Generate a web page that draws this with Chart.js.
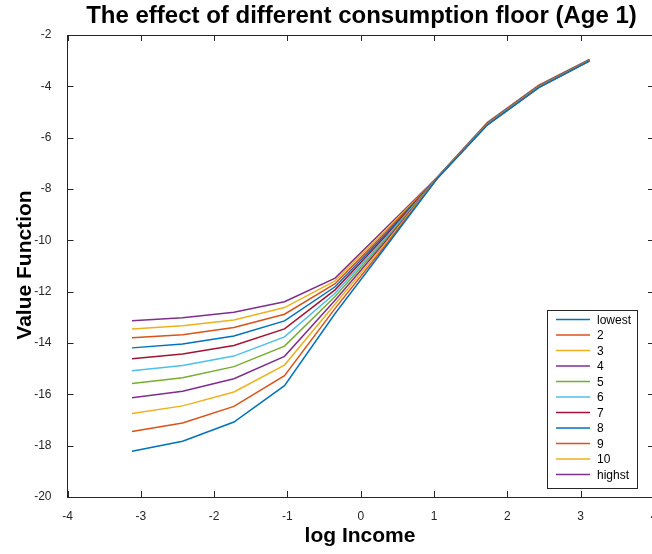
<!DOCTYPE html>
<html>
<head>
<meta charset="utf-8">
<script src="https://cdn.jsdelivr.net/npm/chart.js@4.4.1/dist/chart.umd.min.js"></script>
<style>
body { margin: 0; overflow: hidden; background: white; }
#wrap { width: 664px; height: 554px; }
</style>
</head>
<body>
<div id="wrap"><canvas id="myChart" width="664" height="554"></canvas></div>
<script>
// log income grid
const logIncome = [-3.12, -2.43, -1.73, -1.04, -0.35, 0.35, 1.04, 1.73, 2.43, 3.12];

const labels = ["lowest", "2", "3", "4", "5", "6", "7", "8", "9", "10", "highst"];

// value function at each income point, one number per floor (lowest ... highst)
const v1 = [-18.22, -17.45, -16.75, -16.13, -15.58, -15.08, -14.61, -14.19, -13.80, -13.45, -13.13];
const v2 = [-17.83, -17.12, -16.45, -15.88, -15.35, -14.88, -14.43, -14.04, -13.68, -13.33, -13.02];
const v3 = [-17.08, -16.47, -15.91, -15.39, -14.92, -14.51, -14.10, -13.73, -13.40, -13.10, -12.80];
const v4 = [-15.66, -15.27, -14.86, -14.52, -14.12, -13.76, -13.45, -13.14, -12.88, -12.62, -12.39];
const v5 = [-12.85, -12.65, -12.48, -12.33, -12.19, -12.06, -11.93, -11.81, -11.69, -11.58, -11.47];
const v6 = [-10.22, -10.15, -10.08, -10.01, -9.94, -9.87, -9.80, -9.73, -9.66, -9.58, -9.50];
const v7 = [-7.60, -7.60, -7.59, -7.59, -7.58, -7.58, -7.57, -7.57, -7.56, -7.56, -7.55];
const v8 = [-5.50, -5.49, -5.48, -5.47, -5.46, -5.45, -5.44, -5.43, -5.42, -5.41, -5.40];
const v9 = [-4.05, -4.04, -4.03, -4.02, -4.01, -4.00, -3.99, -3.98, -3.97, -3.96, -3.95];
const v10 = [-3.02, -3.01, -3.01, -3.00, -2.99, -2.99, -2.98, -2.97, -2.97, -2.96, -2.95];

const columns = [v1, v2, v3, v4, v5, v6, v7, v8, v9, v10];

const colors = ["#0072BD", "#D95319", "#EDB120", "#7E2F8E", "#77AC30", "#4DBEEE",
  "#A2142F", "#0072BD", "#D95319", "#EDB120", "#7E2F8E"];

const datasets = labels.map((lab, i) => {
  return {
    label: lab,
    borderColor: colors[i],
    backgroundColor: colors[i],
    borderWidth: 1.5,
    pointRadius: 0,
    tension: 0,
    fill: false,
    data: logIncome.map((x, j) => ({ x: x, y: columns[j][i] }))
  };
});

const axisColor = "#262626";

// box, inward ticks, titles and legend, matlab style
const matlabLook = {
  id: "matlabLook",
  afterDraw(chart) {
    const ctx = chart.ctx;
    const a = chart.chartArea;
    const xs = chart.scales.x;
    const ys = chart.scales.y;
    ctx.save();
    ctx.strokeStyle = axisColor;
    ctx.lineWidth = 1;
    ctx.beginPath();
    ctx.moveTo(a.left, a.top + 0.5);
    ctx.lineTo(a.right, a.top + 0.5);
    ctx.moveTo(a.right - 0.5, a.top);
    ctx.lineTo(a.right - 0.5, a.bottom);
    xs.ticks.forEach(t => {
      const px = Math.round(xs.getPixelForValue(t.value)) + 0.5;
      ctx.moveTo(px, a.bottom);
      ctx.lineTo(px, a.bottom - 6);
      ctx.moveTo(px, a.top);
      ctx.lineTo(px, a.top + 6);
    });
    ys.ticks.forEach(t => {
      const py = Math.round(ys.getPixelForValue(t.value)) + 0.5;
      ctx.moveTo(a.left, py);
      ctx.lineTo(a.left + 6, py);
      ctx.moveTo(a.right, py);
      ctx.lineTo(a.right - 6, py);
    });
    ctx.stroke();

    // titles
    ctx.fillStyle = "#000";
    ctx.textAlign = "center";
    ctx.textBaseline = "middle";
    ctx.font = "bold 24px 'Liberation Sans', Arial, sans-serif";
    ctx.fillText("The effect of different consumption floor (Age 1)", 361.5, 16);
    ctx.font = "bold 21px 'Liberation Sans', Arial, sans-serif";
    ctx.fillText("log Income", 360, 536);
    ctx.save();
    ctx.translate(25, 265);
    ctx.rotate(-Math.PI / 2);
    ctx.fillText("Value Function", 0, 0);
    ctx.restore();

    // legend
    const lx = 547, ly = 310, lw = 90, lh = 178;
    ctx.fillStyle = "#fff";
    ctx.fillRect(lx, ly, lw, lh);
    ctx.strokeStyle = axisColor;
    ctx.lineWidth = 1;
    ctx.strokeRect(lx + 0.5, ly + 0.5, lw, lh);
    ctx.font = "12px 'Liberation Sans', Arial, sans-serif";
    ctx.textAlign = "left";
    chart.data.datasets.forEach((ds, i) => {
      const y = ly + 9.5 + i * 15.5;
      ctx.strokeStyle = ds.borderColor;
      ctx.lineWidth = 1.5;
      ctx.beginPath();
      ctx.moveTo(lx + 9, y);
      ctx.lineTo(lx + 43, y);
      ctx.stroke();
      ctx.fillStyle = "#000";
      ctx.fillText(ds.label, lx + 50, y + 1);
    });
    ctx.restore();
  }
};

const config = {
  type: "line",
  data: { datasets },
  options: {
    responsive: false,
    animation: false,
    layout: { padding: { top: 35, right: 10, left: 0, bottom: 0 } },
    plugins: {
      legend: { display: false },
      title: { display: false },
      tooltip: { enabled: false }
    },
    scales: {
      x: {
        type: "linear",
        min: -4,
        max: 4,
        grid: { display: false },
        border: { display: true, color: axisColor, width: 1 },
        ticks: {
          stepSize: 1,
          color: axisColor,
          padding: 4,
          maxRotation: 0,
          font: { family: "'Liberation Sans', Arial, sans-serif", size: 12 }
        },
        afterFit: (s) => { s.height = 57; }
      },
      y: {
        type: "linear",
        min: -20,
        max: -2,
        grid: { display: false },
        border: { display: true, color: axisColor, width: 1 },
        ticks: {
          stepSize: 2,
          color: axisColor,
          padding: 8,
          font: { family: "'Liberation Sans', Arial, sans-serif", size: 12 }
        },
        afterFit: (s) => { s.width = 67.5; }
      }
    }
  },
  plugins: [matlabLook]
};

const myChart = document.getElementById("myChart");
new Chart(myChart, config);
</script>
</body>
</html>
